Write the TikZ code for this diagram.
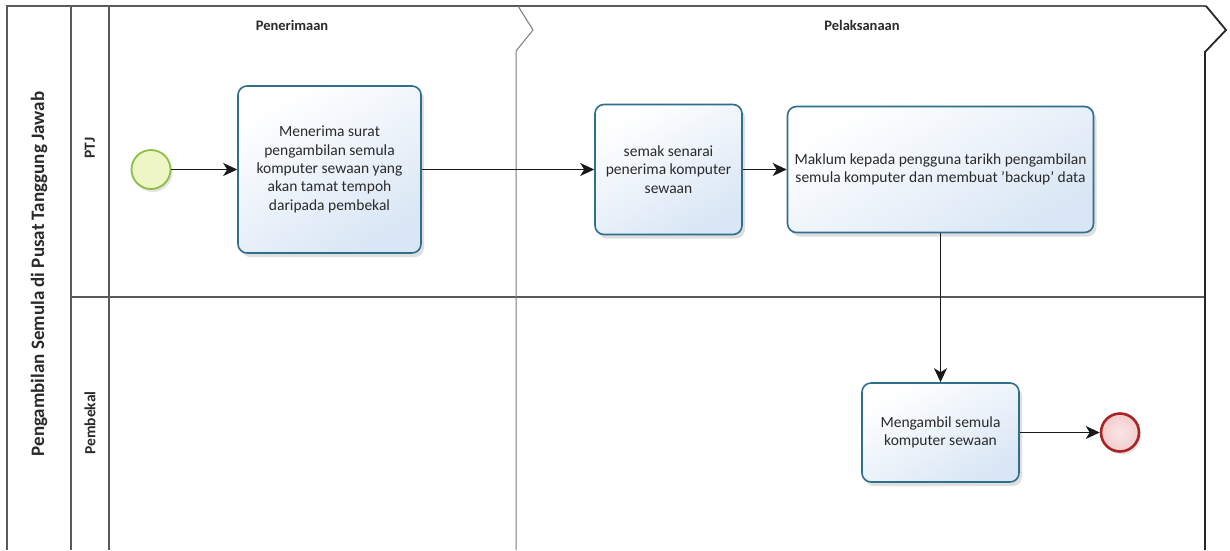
\documentclass[tikz,border=0pt]{standalone}
\usepackage{fontspec}
\setmainfont{Carlito}
\usetikzlibrary{arrows.meta,shadows}

\definecolor{frameline}{HTML}{5A5A5A}
\definecolor{taskline}{HTML}{2E6F8C}
\definecolor{taskfill}{HTML}{D9E6F5}
\definecolor{startline}{HTML}{8DBF44}
\definecolor{startfill}{HTML}{EEF6C6}
\definecolor{endline}{HTML}{A82424}
\definecolor{endfill}{HTML}{F4CCCC}
\definecolor{textgrey}{HTML}{2A2A2A}

\tikzset{
  frame/.style={draw=frameline, line width=1.1pt},
  taskbox/.style={rectangle, rounded corners=9pt, draw=taskline, line width=1.6pt,
    top color=white, bottom color=taskfill, shading angle=30,
    drop shadow={shadow xshift=3pt, shadow yshift=-4pt, fill=black!35, opacity=0.35},
    align=center, text=textgrey, inner sep=2pt,
    font=\fontsize{15.5}{18.3}\selectfont},
  startev/.style={circle, draw=startline, line width=1.8pt, fill=startfill,
    minimum size=39pt, inner sep=0pt,
    drop shadow={shadow xshift=2pt, shadow yshift=-3pt, fill=black!35, opacity=0.3}},
  endev/.style={circle, draw=endline, line width=2.6pt,
    inner color=endfill!50, outer color=endfill,
    minimum size=38pt, inner sep=0pt,
    drop shadow={shadow xshift=2pt, shadow yshift=-3pt, fill=black!35, opacity=0.3}},
  flowtip/.tip={Stealth[length=14pt, width=13pt, inset=4pt]},
  flow/.style={draw=black!90, line width=1.2pt, -flowtip},
  poollabel/.style={rotate=90, font=\fontsize{19}{22}\selectfont\bfseries, text=textgrey},
  lanelabel/.style={rotate=90, font=\fontsize{15.5}{18}\selectfont\bfseries, text=textgrey},
  phaselabel/.style={font=\fontsize{14.5}{17}\selectfont\bfseries, text=textgrey}
}

\begin{document}
% one unit is one point; y runs upwards, so rows are given as negative values
\begin{tikzpicture}[x=1pt, y=1pt]
  \useasboundingbox (0,-550) rectangle (1230,0);
  \fill[white] (0,-550) rectangle (1230,0);

  % pool and lane frame
  \draw[frame] (7,-550) -- (7,-6) -- (1206,-6);
  \draw[frame] (71,-6) -- (71,-550);
  \draw[frame] (109,-6) -- (109,-550);
  \draw[frame] (71,-297) -- (1205,-297);

  % phase separator with its chevron
  \draw[draw=frameline!80, line width=1pt] (518,-6) -- (533,-30) -- (516,-51) -- (516,-550);
  % closing phase boundary
  \draw[draw=black!85, line width=1.8pt] (1206,-6) -- (1226,-30) -- (1205,-52) -- (1205,-550);

  % labels
  \node[poollabel] (pool) at (39,-274) {Pengambilan Semula di Pusat Tanggung Jawab};
  \node[lanelabel] (lanePTJ) at (90,-148) {PTJ};
  \node[lanelabel] (laneSup) at (90,-423) {Pembekal};
  \node[phaselabel] (phaseA) at (292,-25) {Penerimaan};
  \node[phaselabel] (phaseB) at (862,-25) {Pelaksanaan};

  % events and tasks
  \node[startev] (start) at (151,-169.5) {};
  \node[taskbox, minimum width=183pt, minimum height=167pt] (t1) at (329.5,-169.5)
    {Menerima surat\\pengambilan semula\\komputer sewaan yang\\akan tamat tempoh\\daripada pembekal};
  \node[taskbox, minimum width=147pt, minimum height=130pt] (t2) at (668.5,-169.5)
    {semak senarai\\penerima komputer\\sewaan};
  \node[taskbox, minimum width=306pt, minimum height=126pt] (t3) at (940.5,-169.5)
    {Maklum kepada pengguna tarikh pengambilan\\semula komputer dan membuat ’backup’ data};
  \node[taskbox, minimum width=157pt, minimum height=99pt] (t4) at (940.5,-432.5)
    {Mengambil semula\\komputer sewaan};
  \node[endev] (end) at (1120,-432.5) {};

  % sequence flows
  \draw[flow] (start) -- (t1);
  \draw[flow] (t1) -- (t2);
  \draw[flow] (t2) -- (t3);
  \draw[flow] (t3) -- (t4);
  \draw[flow] (t4) -- (end);
\end{tikzpicture}
\end{document}
